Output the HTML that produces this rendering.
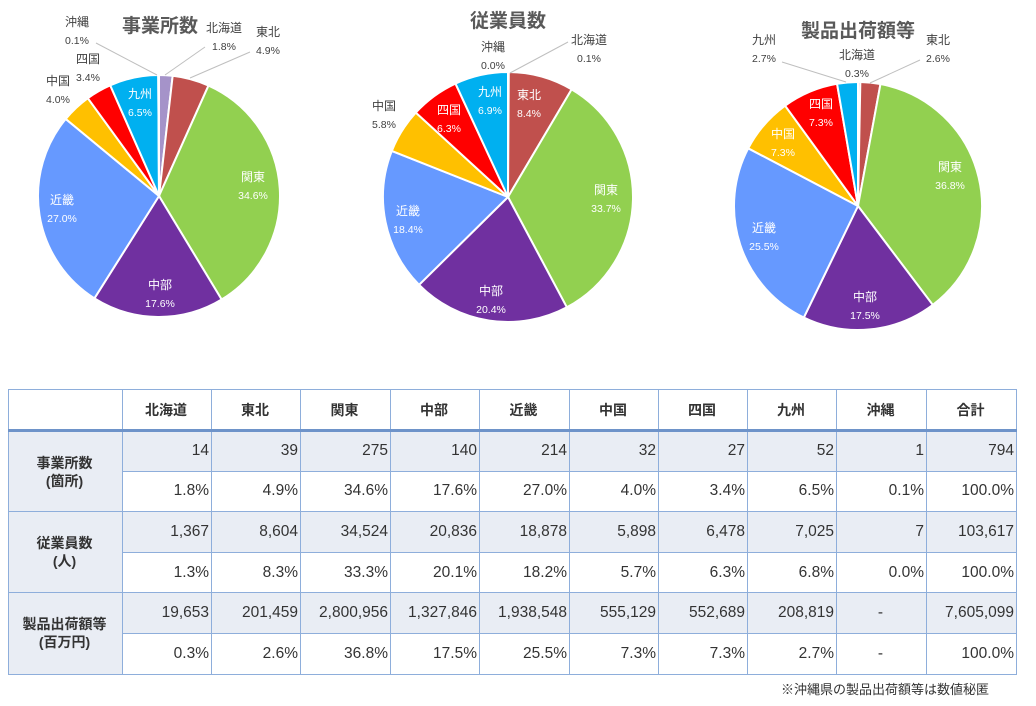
<!DOCTYPE html>
<html><head><meta charset="utf-8">
<style>
body{margin:0;width:1036px;height:706px;background:#fff;font-family:"Liberation Sans","Noto Sans CJK JP",sans-serif;overflow:hidden;position:relative}
svg{position:absolute;left:0;top:0}
table{position:absolute;left:8px;top:389px;border-collapse:collapse;font-size:15.5px;color:#333}
td,th{border:1.5px solid #8eaedb;padding:0 2px 0 0;height:40.6px;box-sizing:border-box}
th{font-weight:bold;font-size:14px;background:#fff;text-align:center;height:41px;border-bottom:3px solid #6e93c9}
td{text-align:right}
td.rh{text-align:center;font-weight:bold;font-size:14px;background:#e9edf4;line-height:18px}
tr.a td{background:#e9edf4}
.note{position:absolute;left:781px;top:679px;font-size:13px;color:#333}
</style></head><body>
<svg id="pies" width="1036" height="380"></svg>
<table>
<tr><th style="width:114px"></th><th style="width:89px">北海道</th><th style="width:89px">東北</th><th style="width:90px">関東</th><th style="width:89px">中部</th><th style="width:90px">近畿</th><th style="width:89px">中国</th><th style="width:89px">四国</th><th style="width:89px">九州</th><th style="width:90px">沖縄</th><th style="width:90px">合計</th></tr>
<tr class="a"><td class="rh" rowspan="2">事業所数<br>(箇所)</td><td>14</td><td>39</td><td>275</td><td>140</td><td>214</td><td>32</td><td>27</td><td>52</td><td>1</td><td>794</td></tr>
<tr><td>1.8%</td><td>4.9%</td><td>34.6%</td><td>17.6%</td><td>27.0%</td><td>4.0%</td><td>3.4%</td><td>6.5%</td><td>0.1%</td><td>100.0%</td></tr>
<tr class="a"><td class="rh" rowspan="2">従業員数<br>(人)</td><td>1,367</td><td>8,604</td><td>34,524</td><td>20,836</td><td>18,878</td><td>5,898</td><td>6,478</td><td>7,025</td><td>7</td><td>103,617</td></tr>
<tr><td>1.3%</td><td>8.3%</td><td>33.3%</td><td>20.1%</td><td>18.2%</td><td>5.7%</td><td>6.3%</td><td>6.8%</td><td>0.0%</td><td>100.0%</td></tr>
<tr class="a"><td class="rh" rowspan="2">製品出荷額等<br>(百万円)</td><td>19,653</td><td>201,459</td><td>2,800,956</td><td>1,327,846</td><td>1,938,548</td><td>555,129</td><td>552,689</td><td>208,819</td><td style="text-align:center">-</td><td>7,605,099</td></tr>
<tr><td>0.3%</td><td>2.6%</td><td>36.8%</td><td>17.5%</td><td>25.5%</td><td>7.3%</td><td>7.3%</td><td>2.7%</td><td style="text-align:center">-</td><td>100.0%</td></tr>
</table>
<div class="note">※沖縄県の製品出荷額等は数値秘匿</div>
<script>
const regions=["北海道","東北","関東","中部","近畿","中国","四国","九州","沖縄"];
const colors=["#a593c9","#c0504d","#92d050","#7030a0","#6699ff","#ffc000","#ff0000","#00b0f0","#8064a2"];
const sharesEstablishments=[1.8,4.9,34.6,17.6,27.0,4.0,3.4,6.5,0.1];
const sharesEmployees=[0.1,8.4,33.7,20.4,18.4,5.8,6.3,6.9,0.0];
const sharesShipments=[0.3,2.6,36.8,17.5,25.5,7.3,7.3,2.7,0];
const titles=["事業所数","従業員数","製品出荷額等"];
const pieLayout=[
 {cx:159,cy:196,r:121,tx:160,ty:32,
  labels:[[224,28,0],[268,32,0],[253,177,1],[160,285,1],[62,200,1],[58,81,0],[88,59,0],[140,94,1],[77,22,0]],
  lines:[[205,47,165,75],[250,52,190,78],[96,43,157,75]]},
 {cx:508,cy:197,r:125,tx:508,ty:27,
  labels:[[589,40,0],[529,95,1],[606,190,1],[491,291,1],[408,211,1],[384,106,0],[449,110,1],[490,92,1],[493,47,0]],
  lines:[[568,42,510,73]]},
 {cx:858,cy:206,r:124,tx:858,ty:37,
  labels:[[857,55,0],[938,40,0],[950,167,1],[865,297,1],[764,228,1],[783,134,1],[821,104,1],[764,40,0],null],
  lines:[[782,62,846,82],[920,60,870,83]]}
];
const datasets=[sharesEstablishments,sharesEmployees,sharesShipments];
const NS="http://www.w3.org/2000/svg";
const svg=document.getElementById('pies');
function mk(t,a,p){const e=document.createElementNS(NS,t);for(const k in a)e.setAttribute(k,a[k]);(p||svg).appendChild(e);return e;}
datasets.forEach((vals,pi)=>{
 const L=pieLayout[pi];
 const g=mk('g',{});
 
 
 const tot=vals.reduce((a,b)=>a+b,0);
 let a0=0;
 vals.forEach((v,i)=>{
  const a1=a0+v/tot*2*Math.PI;
  if(v>0){
   const x0=L.cx+L.r*Math.sin(a0),y0=L.cy-L.r*Math.cos(a0);
   const x1=L.cx+L.r*Math.sin(a1),y1=L.cy-L.r*Math.cos(a1);
   const p=mk('path',{d:`M${L.cx},${L.cy}L${x0},${y0}A${L.r},${L.r} 0 ${(a1-a0)>Math.PI?1:0} 1 ${x1},${y1}Z`,fill:colors[i],stroke:'#fff','stroke-width':2},g);
   
   
  }
  a0=a1;
 });
 L.lines.forEach(l=>{mk('line',{x1:l[0],y1:l[1],x2:l[2],y2:l[3],stroke:'#bfbfbf','stroke-width':1},g);});
 vals.forEach((v,i)=>{
  const lb=L.labels[i]; if(!lb)return;
  const c=lb[2]?'#fff':'#404040';
  const t1=mk('text',{x:lb[0],y:lb[1]+4,'text-anchor':'middle','font-size':12,fill:c},g);
  t1.textContent=regions[i];
  
  
  const t2=mk('text',{x:lb[0],y:lb[1]+22,'text-anchor':'middle','font-size':10.5,fill:c},g);
  t2.textContent=v.toFixed(1)+'%';
  
  
 });
 const tt=mk('text',{x:L.tx,y:L.ty,'text-anchor':'middle','font-size':19,'font-weight':'bold',fill:'#595959'},g);
 tt.textContent=titles[pi];
 
 
});
</script>
</body></html>
